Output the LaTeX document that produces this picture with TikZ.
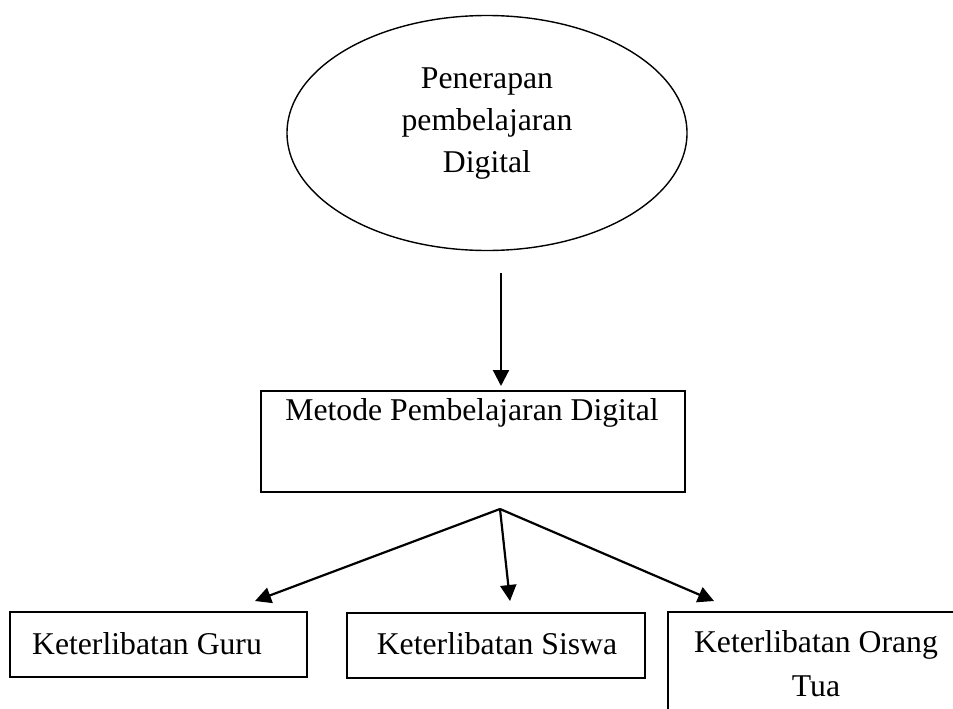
\documentclass[tikz,border=0pt]{standalone}
\usepackage{fontspec}
\setmainfont{Liberation Serif}
\usetikzlibrary{arrows.meta,shapes.geometric}
\begin{document}
\begin{tikzpicture}[x=1pt,y=-1pt,
  every node/.style={inner sep=0pt,outer sep=0pt},
  txt/.style={font=\fontsize{31.7}{42}\selectfont,align=center},
  box/.style={draw,line width=2pt,rectangle},
  conn/.style={line width=2.2pt,-{Triangle[length=16pt,width=16pt]}}]
\clip (0,0) rectangle (953,709);
\fill[white] (0,0) rectangle (953,709);
% ellipse
\node[draw,ellipse,line width=1.4pt,minimum width=400pt,minimum height=235pt] (ell) at (487,133) {};
\node[txt] (elltext) at (487,124) {Penerapan\\pembelajaran\\Digital};
% method box
\node[box,minimum width=424pt,minimum height=101pt] (metode) at (473,441.5) {};
\node[txt] (metodetext) at (472,413) {Metode Pembelajaran Digital};
% bottom boxes
\node[box,minimum width=297pt,minimum height=65pt] (guru) at (158.5,644.5) {};
\node[txt] (gurutext) at (147,644) {Keterlibatan Guru};
\node[box,minimum width=298pt,minimum height=65pt] (siswa) at (496,645) {};
\node[txt] (siswatext) at (497,644) {Keterlibatan Siswa};
\node[box,minimum width=340pt,minimum height=150pt,anchor=north west] (ortu) at (668,612) {};
\node[txt,font=\fontsize{31.7}{44}\selectfont] (ortutext) at (816,664) {Keterlibatan Orang\\Tua};
% connectors
\coordinate (a1) at (501,273);
\coordinate (a2) at (501,386);
\draw[conn] (a1) -- (a2);
\coordinate (br) at (500,509);
\coordinate (tg) at (255,601);
\coordinate (ts) at (510,601);
\coordinate (to) at (714,601);
\draw[conn] (br) -- (tg);
\draw[conn] (br) -- (ts);
\draw[conn] (br) -- (to);
\end{tikzpicture}
\end{document}
